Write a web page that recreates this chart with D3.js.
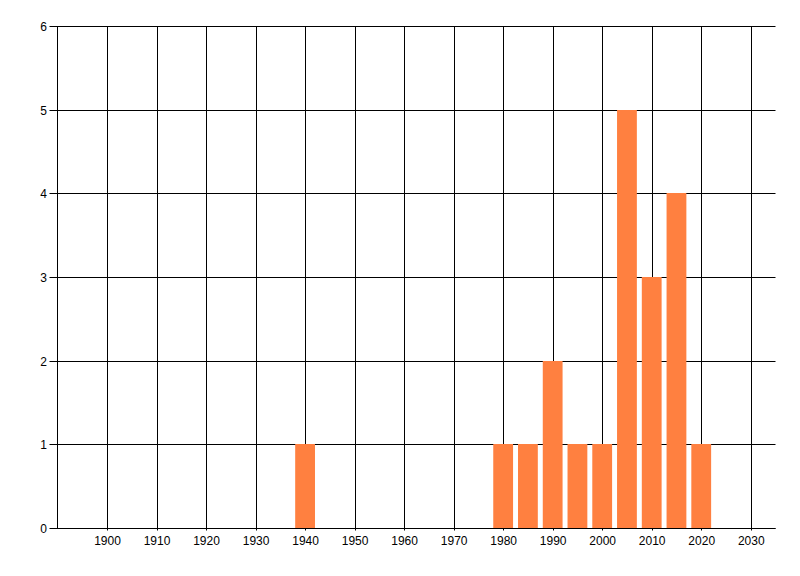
<!DOCTYPE html>
<html><head><meta charset="utf-8">
<script src="https://cdn.jsdelivr.net/npm/d3@7"></script>
<style>
html,body{margin:0;padding:0;background:#fff;}
text{font-family:"Liberation Sans Narrow","Liberation Sans",Arial,sans-serif;font-size:12px;fill:#000;}
</style></head>
<body>
<svg id="chart" width="800" height="576"></svg>
<script>
const years = [1940, 1980, 1985, 1990, 1995, 2000, 2005, 2010, 2015, 2020];
const counts = [1, 1, 1, 2, 1, 1, 5, 3, 4, 1];
const xTicks = [1900, 1910, 1920, 1930, 1940, 1950, 1960, 1970, 1980, 1990, 2000, 2010, 2020, 2030];
const yTicks = [0, 1, 2, 3, 4, 5, 6];

(function () {
const svg = d3.select("#chart");
const pL = 57.5, pR = 775.5, pT = 26.5, pB = 528.5;
const x = d3.scaleLinear().domain([1890, 2035]).range([pL, pR]);
const y = d3.scaleLinear().domain([0, 6]).range([pB, pT]);
const py = v => Math.round(y(v) - 0.5) + 0.5;

// vertical grid
svg.append("g").selectAll("line").data(xTicks).join("line")
  .attr("x1", d => Math.round(x(d)) + 0.5).attr("x2", d => Math.round(x(d)) + 0.5)
  .attr("y1", pT).attr("y2", pB + 2)
  .attr("stroke", "#000").attr("stroke-width", 1);
// horizontal grid
svg.append("g").selectAll("line").data(yTicks).join("line")
  .attr("x1", pL - 8).attr("x2", pR)
  .attr("y1", d => py(d)).attr("y2", d => py(d))
  .attr("stroke", "#000").attr("stroke-width", 1);
// y axis line
svg.append("line").attr("x1", pL).attr("x2", pL).attr("y1", pT).attr("y2", pB)
  .attr("stroke", "#000");

// bars
const barW = x(1894) - x(1890);
svg.append("g").selectAll("rect").data(years.map((yr, i) => ({yr, v: counts[i]}))).join("rect")
  .attr("x", d => x(d.yr) - barW / 2)
  .attr("width", barW)
  .attr("y", d => py(d.v) - 0.5)
  .attr("height", d => py(0) - py(d.v))
  .attr("fill", "#ff8040");

// axis line over bars bottom
svg.append("line").attr("x1", pL).attr("x2", pR).attr("y1", py(0)).attr("y2", py(0))
  .attr("stroke", "#000");

// labels
svg.append("g").selectAll("text").data(xTicks).join("text")
  .attr("x", d => x(d) + 0.5).attr("y", 545)
  .attr("text-anchor", "middle").text(d => d);
svg.append("g").selectAll("text").data(yTicks).join("text")
  .attr("x", 47).attr("y", d => py(d) + 4)
  .attr("text-anchor", "end").text(d => d);
})();
</script>
</body></html>
